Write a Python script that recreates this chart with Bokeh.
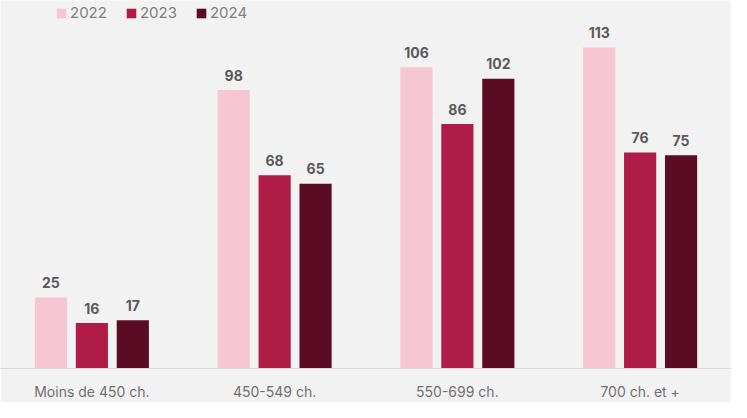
from bokeh.plotting import figure
from bokeh.models import ColumnDataSource, FactorRange, Range1d, Legend, LegendItem
from bokeh.transform import dodge
from bokeh.core.properties import value
from bokeh.embed import file_html
from bokeh.resources import INLINE

categories = ["Moins de 450 ch.", "450-549 ch.", "550-699 ch.", "700 ch. et +"]
years = ["2022", "2023", "2024"]
v2022 = [25, 98, 106, 113]
v2023 = [16, 68, 86, 76]
v2024 = [17, 65, 102, 75]

colors = ["#f6c6d3", "#b01c48", "#590c23"]
FONT = "Inter"

src = ColumnDataSource(dict(cat=categories, v2022=v2022, v2023=v2023, v2024=v2024,
                            l2022=[str(v) for v in v2022],
                            l2023=[str(v) for v in v2023],
                            l2024=[str(v) for v in v2024]))

p = figure(width=731, height=402, x_range=FactorRange(*categories, range_padding=0),
           y_range=Range1d(0, 129.5), output_backend="svg", toolbar_location=None,
           y_axis_location=None, min_border_left=0, min_border_right=0,
           min_border_top=0, min_border_bottom=0)
p.background_fill_color = "#f2f2f2"
p.border_fill_color = "#f2f2f2"
p.outline_line_color = None
p.xgrid.grid_line_color = None
p.ygrid.grid_line_color = None

offsets = [-0.224, 0.0, 0.224]
items = []
for yr, off, col in zip(years, offsets, colors):
    r = p.vbar(x=dodge("cat", off, range=p.x_range), top="v" + yr, width=0.176,
               source=src, fill_color=col, line_color=None)
    p.text(x=dodge("cat", off, range=p.x_range), y="v" + yr, text="l" + yr, source=src,
           text_align="center", text_baseline="alphabetic", y_offset=-15,
           text_font=value(FONT), text_font_size="14px", text_font_style="bold",
           text_color="#595959")
    items.append(LegendItem(label=yr, renderers=[r]))

legend = Legend(items=items, orientation="horizontal", location=(55, 346),
                background_fill_alpha=0, border_line_color=None,
                glyph_width=12, glyph_height=12, label_height=16, label_standoff=3,
                spacing=18, padding=0, margin=0,
                label_text_font=FONT, label_text_font_size="15px", label_text_color="#7f7f7f")
p.add_layout(legend, "center")

ax = p.xaxis[0]
ax.axis_line_color = "#d9d9d9"
ax.axis_line_width = 1
ax.major_tick_line_color = None
ax.minor_tick_line_color = None
ax.major_tick_out = 0
ax.major_tick_in = 0
ax.major_label_standoff = 14
ax.major_label_text_font = FONT
ax.major_label_text_font_size = "14px"
ax.major_label_text_color = "#707070"

open("out.html", "w").write(file_html(p, INLINE))
